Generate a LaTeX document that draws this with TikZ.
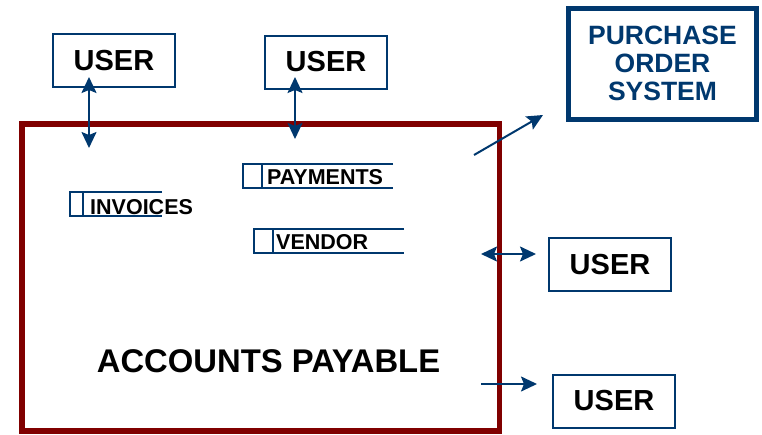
\documentclass[tikz,border=0pt]{standalone}
\usepackage{fontspec}
\setmainfont{Liberation Sans}
\usetikzlibrary{arrows.meta,calc}
\definecolor{apred}{RGB}{128,0,0}
\definecolor{navy}{RGB}{0,56,110}
\begin{document}
\begin{tikzpicture}[x=1pt,y=-1pt,
  userbox/.style={draw=navy, line width=2pt, minimum width=122pt, minimum height=53pt,
    inner sep=0pt, font=\fontsize{29}{29}\selectfont\bfseries},
  link/.style={draw=navy, line width=2pt},
  headtip/.style={-{Stealth[length=16pt,width=15pt,inset=3pt]}},
  bothtip/.style={{Stealth[length=16pt,width=15pt,inset=3pt]}-{Stealth[length=16pt,width=15pt,inset=3pt]}},
  store/.style={draw=navy, line width=2pt},
  storelabel/.style={font=\fontsize{21.5}{21.5}\selectfont\bfseries, inner sep=0pt, anchor=base west}]
\useasboundingbox (0,0) rectangle (762,434);
% main system
\node[draw=apred, line width=5.5pt, minimum width=477.5pt, minimum height=307pt, inner sep=0pt]
  (ap) at (260.75,277.5) {};
\node[font=\fontsize{32.8}{32.8}\selectfont\bfseries, inner sep=0pt] (aptext) at (268.5,361.5) {ACCOUNTS PAYABLE};
% users
\node[userbox] (u1) at (114,60.5) {USER};
\node[userbox] (u2) at (326,62) {USER};
\node[userbox] (u3) at (610,264.5) {USER};
\node[userbox] (u4) at (614,401) {USER};
% purchase order system
\node[draw=navy, line width=5pt, minimum width=188pt, minimum height=111pt, inner sep=0pt,
  align=center, text=navy, font=\fontsize{26.5}{28}\selectfont\bfseries]
  (po) at (662.5,63.5) {PURCHASE\\ORDER\\SYSTEM};
% data stores
\coordinate (inv) at (70,192); 
\draw[store] ($(inv)+(92,0)$) -- (inv) -- ++(0,24) -- ++(92,0);
\draw[store] ($(inv)+(13,0)$) -- ++(0,24);
\node[storelabel] (invt) at (90,214) {INVOICES};
\coordinate (pay) at (243,164);
\draw[store] ($(pay)+(150,0)$) -- (pay) -- ++(0,24) -- ++(150,0);
\draw[store] ($(pay)+(19,0)$) -- ++(0,24);
\node[storelabel] (payt) at (267,184.5) {PAYMENTS};
\coordinate (ven) at (254,229);
\draw[store] ($(ven)+(150,0)$) -- (ven) -- ++(0,24) -- ++(150,0);
\draw[store] ($(ven)+(19,0)$) -- ++(0,24);
\node[storelabel] (vent) at (276,249.5) {VENDOR};
% connectors
\coordinate (a1t) at (89,77); \coordinate (a1b) at (89,148);
\draw[link,bothtip] (a1t) -- (a1b);
\coordinate (a2t) at (295,77); \coordinate (a2b) at (295,139);
\draw[link,bothtip] (a2t) -- (a2b);
\coordinate (a3s) at (474,155); \coordinate (a3e) at (543,115);
\draw[link,headtip] (a3s) -- (a3e);
\coordinate (a4s) at (481,254); \coordinate (a4e) at (536,254);
\draw[link,bothtip] (a4s) -- (a4e);
\coordinate (a5s) at (481,384); \coordinate (a5e) at (537,384);
\draw[link,headtip] (a5s) -- (a5e);
\end{tikzpicture}
\end{document}
